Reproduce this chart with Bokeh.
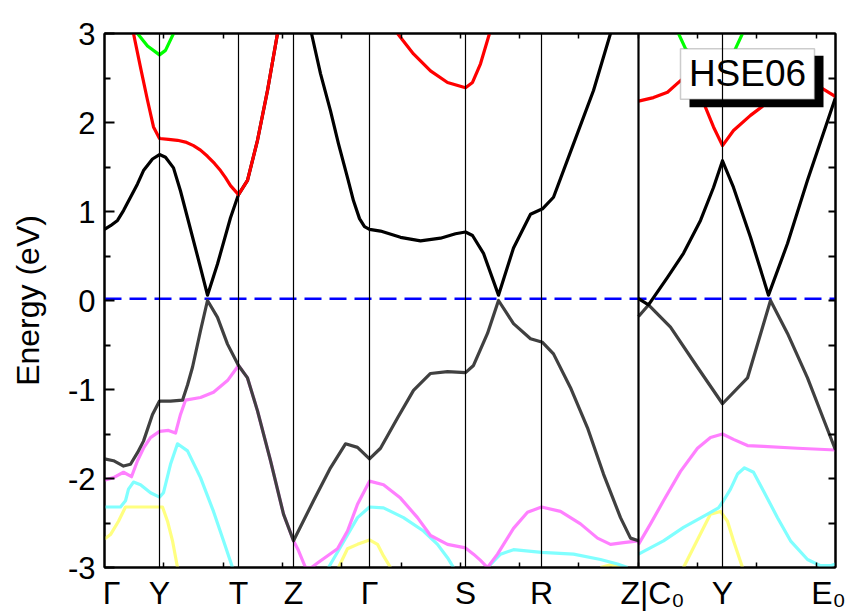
from bokeh.plotting import figure
from bokeh.models import Span, Label, BoxAnnotation, LinearAxis, FixedTicker, Range1d
from bokeh.embed import file_html
from bokeh.resources import INLINE
import numpy as np

nan = float("nan")

# high-symmetry points (k-path positions) and their labels
kpos = [0.0, 0.55, 1.34, 1.89, 2.65, 3.61, 4.37, 5.34, 6.18, 7.31]
klabels = ["Γ", "Y", "T", "Z", "Γ", "S", "R", "Z|C₀", "Y", "E₀"]
energy_ticks = [-3, -2, -1, 0, 1, 2, 3]
fermi_level = 0.02

# conduction band 1 (black)
cb1_k = [0, .06, .13, .19, .26, .33, .39, .48, .55, .61, .69, .76, .83, .96, 1.03, 1.13, 1.26, 1.34,
         1.43, 1.53, 1.63, 1.73, nan,
         2.07, 2.16, 2.26, 2.34, 2.43, 2.49, 2.55, 2.60, 2.65, 2.76, 2.96, 3.16, 3.36, 3.51, 3.61, 3.68,
         3.79, 3.94, 4.09, 4.26, 4.38, 4.49, 4.69, 4.89, 5.06, nan,
         5.34, 5.44, 5.63, 5.79, 5.96, 6.09, 6.18, 6.29, 6.46, 6.64, 6.83, 7.03, 7.31]
cb1_e = [0.80, 0.84, 0.90, 1.01, 1.16, 1.31, 1.46, 1.59, 1.64, 1.61, 1.49, 1.23, 0.93, 0.37, 0.06, 0.41,
         0.93, 1.19, 1.35, 1.80, 2.36, 3.0, nan,
         3.0, 2.55, 2.13, 1.76, 1.38, 1.12, 0.92, 0.83, 0.80, 0.78, 0.71, 0.67, 0.70, 0.75, 0.77, 0.73,
         0.53, 0.06, 0.59, 0.97, 1.03, 1.16, 1.76, 2.36, 3.0, nan,
         0.02, -0.05, 0.26, 0.53, 0.90, 1.27, 1.57, 1.27, 0.71, 0.06, 0.64, 1.35, 2.28]

# conduction band 2 (red)
cb2_k = [.29, .36, .43, .49, .55, .64, .73, .81, .89, .96, 1.03, 1.10, 1.16, 1.21, 1.26, 1.30, 1.34,
         1.43, 1.53, 1.63, 1.73, nan,
         2.93, 3.09, 3.26, 3.43, 3.61, 3.68, 3.76, 3.85, nan,
         5.34, 5.49, 5.63, 5.76, 5.86, 6.01, 6.09, 6.18, 6.29, 6.46, 6.59, 6.81, 7.01, 7.18, 7.31]
cb2_e = [3.0, 2.62, 2.25, 1.95, 1.82, 1.81, 1.80, 1.78, 1.74, 1.69, 1.62, 1.54, 1.46, 1.38, 1.29, 1.24,
         1.19, 1.35, 1.80, 2.36, 3.0, nan,
         3.0, 2.77, 2.58, 2.45, 2.39, 2.45, 2.66, 3.0, nan,
         2.24, 2.28, 2.34, 2.47, 2.56, 2.17, 1.95, 1.74, 1.91, 2.08, 2.19, 2.33, 2.42, 2.38, 2.29]

# conduction band 3 (green)
cb3_k = [.33, .43, .55, .61, .69, nan, 5.74, 5.81, 5.91, 6.06, 6.18, 6.24, 6.31, 6.38]
cb3_e = [3.0, 2.86, 2.76, 2.81, 3.0, nan, 3.0, 2.83, 2.70, 2.62, 2.60, 2.66, 2.83, 3.0]

# valence band 1 (dark grey)
vb1_k = [0, .09, .19, .26, .33, .39, .48, .55, .66, .78, .83, .88, .96, 1.03, 1.13, 1.23, 1.34, 1.43,
         1.53, 1.66, 1.79, 1.89, 2.09, 2.26, 2.41, 2.53, 2.65, 2.76, 2.93, 3.09, 3.26, 3.43, 3.61, 3.69,
         3.83, 3.94, 4.09, 4.26, 4.38, 4.49, 4.66, 4.83, 4.99, 5.16, 5.26, 5.34, nan,
         5.34, 5.44, 5.66, 5.93, 6.18, 6.43, 6.66, 6.83, 7.03, 7.31]
vb1_e = [-1.78, -1.80, -1.86, -1.84, -1.71, -1.58, -1.28, -1.13, -1.13, -1.12, -0.95, -0.75, -0.34, 0.0,
         -0.19, -0.49, -0.73, -0.87, -1.24, -1.80, -2.40, -2.70, -2.25, -1.88, -1.61, -1.65, -1.78, -1.66,
         -1.32, -1.01, -0.82, -0.80, -0.81, -0.73, -0.37, 0.0, -0.26, -0.43, -0.47, -0.60, -0.98, -1.43,
         -1.95, -2.44, -2.67, -2.70, nan,
         -0.18, -0.05, -0.30, -0.75, -1.16, -0.87, 0.0, -0.37, -0.87, -1.68]

# valence band 2 (magenta)
vb2_k = [0, .09, .19, .27, .33, .39, .46, .55, .64, .71, .76, .81, .96, 1.09, 1.23, 1.34, 1.43, 1.53,
         1.66, 1.79, 1.89, 1.94, 2.01, 2.07, 2.13, 2.33, 2.43, 2.53, 2.65, 2.79, 2.96, 3.13, 3.26, 3.43,
         3.61, 3.69, 3.76, 3.83, 3.93, 4.09, 4.23, 4.37, 4.56, 4.76, 4.93, 5.06, 5.19, 5.34, nan,
         5.34, 5.46, 5.59, 5.76, 5.93, 6.06, 6.18, 6.29, 6.43, 6.59, 6.93, 7.31]
vb2_e = [-2.02, -1.99, -1.93, -1.98, -1.80, -1.66, -1.54, -1.47, -1.46, -1.49, -1.28, -1.12, -1.09, -1.03,
         -0.90, -0.73, -0.87, -1.24, -1.80, -2.40, -2.70, -2.81, -3.0, -3.0, -2.95, -2.79, -2.59, -2.29,
         -2.03, -2.07, -2.22, -2.44, -2.64, -2.74, -2.78, -2.85, -2.92, -3.0, -2.85, -2.56, -2.38, -2.32,
         -2.37, -2.51, -2.67, -2.74, -2.72, -2.70, nan,
         -2.74, -2.51, -2.25, -1.92, -1.66, -1.54, -1.50, -1.56, -1.63, -1.64, -1.66, -1.68]

# valence band 3 (cyan)
vb3_k = [0, .16, .21, .24, .29, .36, .46, .55, .59, .66, .73, .83, .96, 1.09, 1.19, 1.28, nan,
         2.24, 2.36, 2.53, 2.65, 2.79, 2.99, 3.19, 3.33, 3.43, 3.49, nan,
         3.83, 3.96, 4.09, 4.37, 4.69, 4.96, 5.13, 5.23, nan,
         5.34, 5.59, 5.79, 6.03, 6.14, 6.19, 6.26, 6.33, 6.40, 6.49, 6.59, 6.73, 6.86, 7.03, 7.16, 7.26, 7.31]
vb3_e = [-2.32, -2.32, -2.25, -2.12, -2.04, -2.07, -2.16, -2.21, -2.16, -1.84, -1.61, -1.69, -1.99, -2.37,
         -2.70, -3.0, nan,
         -3.0, -2.77, -2.44, -2.32, -2.33, -2.44, -2.59, -2.74, -2.89, -3.0, nan,
         -3.0, -2.85, -2.80, -2.83, -2.85, -2.91, -2.96, -3.0, nan,
         -2.85, -2.70, -2.55, -2.40, -2.33, -2.25, -2.12, -1.95, -1.88, -1.93, -2.14, -2.44, -2.70, -2.91,
         -2.98, -2.98, -2.96]

# valence band 4 (yellow)
vb4_k = [0, .06, .14, .21, .58, .63, .68, .73, nan, 2.34, 2.43, 2.53, 2.65, 2.73, 2.79, 2.86, nan,
         4.96, 5.06, 5.18, nan, 5.79, 5.96, 6.06, 6.16, 6.23, 6.29, 6.38]
vb4_e = [-2.68, -2.63, -2.48, -2.32, -2.32, -2.48, -2.70, -3.0, nan, -3.0, -2.79, -2.74, -2.69, -2.74,
         -2.87, -3.0, nan, -3.0, -2.97, -3.0, nan, -3.0, -2.62, -2.40, -2.37, -2.48, -2.70, -3.0]

bands = [
    (vb4_k, vb4_e, "#FFFF80"),
    (vb3_k, vb3_e, "#80FFFF"),
    (vb2_k, vb2_e, "#FF80FF"),
    (vb1_k, vb1_e, "#404040"),
    (cb1_k, cb1_e, "#000000"),
    (cb2_k, cb2_e, "#FF0000"),
    (cb3_k, cb3_e, "#00FF00"),
]

FONT = "Liberation Sans"

p = figure(width=852, height=614, output_backend="svg", toolbar_location=None,
           x_range=Range1d(kpos[0], kpos[-1]), y_range=Range1d(-3, 3),
           min_border_left=104, min_border_right=17, min_border_top=33, min_border_bottom=47)
p.background_fill_color = "white"
p.border_fill_color = "white"
p.outline_line_color = "black"
p.outline_line_width = 2
p.xgrid.visible = False
p.ygrid.visible = False

# small k ticks along top and bottom (no labels: minor ticks only)
k_minor = [float(v) for v in np.arange(0.593, kpos[-1], 0.593)]
e_minor = [float(v) for v in np.arange(-2.5, 3.0, 0.5)]

ya = p.yaxis[0]
ya.ticker = FixedTicker(ticks=energy_ticks, minor_ticks=[-2.5, -1.5, -0.5, 0.5, 1.5, 2.5])
ya.major_label_overrides = {t: str(t) for t in energy_ticks}
ya.axis_line_width = 2
ya.major_tick_line_width = 2
ya.minor_tick_line_width = 2
ya.major_tick_in = 10
ya.major_tick_out = 0
ya.minor_tick_in = 6
ya.minor_tick_out = 0
ya.major_label_text_font = FONT
ya.major_label_text_font_size = "31px"
ya.major_label_text_color = "black"
ya.major_label_standoff = 9
ya.axis_label = "Energy (eV)"
ya.axis_label_text_font = FONT
ya.axis_label_text_font_size = "32px"
ya.axis_label_text_font_style = "normal"
ya.axis_label_text_color = "black"
ya.axis_label_standoff = 19

# bottom axis: k-point labels as major ticks (no tick marks), small minor ticks
label_shift = {0: 0.07, 7: 0.14, 9: -0.07}
label_pos = [kk + label_shift.get(i, 0.0) for i, kk in enumerate(kpos)]
xa = p.xaxis[0]
xa.ticker = FixedTicker(ticks=label_pos, minor_ticks=k_minor)
xa.major_label_overrides = {pos: lab for pos, lab in zip(label_pos, klabels)}
xa.axis_line_width = 2
xa.major_tick_in = 0
xa.major_tick_out = 0
xa.major_tick_line_color = None
xa.minor_tick_line_width = 1.5
xa.minor_tick_in = 5
xa.minor_tick_out = 0
xa.major_label_text_font = FONT
xa.major_label_text_font_size = "32px"
xa.major_label_text_color = "black"
xa.major_label_standoff = 7

top = LinearAxis(ticker=FixedTicker(ticks=[], minor_ticks=k_minor), axis_line_width=2,
                 minor_tick_line_width=1.5, minor_tick_in=5, minor_tick_out=0,
                 major_tick_line_color=None)
p.add_layout(top, "above")
right = LinearAxis(ticker=FixedTicker(ticks=[], minor_ticks=e_minor), axis_line_width=2,
                   minor_tick_line_width=2, minor_tick_in=7, minor_tick_out=0,
                   major_tick_line_color=None)
p.add_layout(right, "right")

# Fermi level
p.add_layout(Span(location=fermi_level, dimension="width", line_color="#0000FF", line_width=2.5,
                  line_dash="17 8", level="underlay"))

for k, e, c in bands:
    p.line(k, e, line_color=c, line_width=3.2, line_join="round")

# HSE06 box with shadow
p.add_layout(BoxAnnotation(left=5.85, right=7.19, bottom=2.17, top=2.75, fill_color="black",
                           fill_alpha=1.0, line_alpha=0))
p.add_layout(BoxAnnotation(left=5.76, right=7.10, bottom=2.26, top=2.83, fill_color="white",
                           fill_alpha=1.0, line_color="#555555", line_width=1.5))

# vertical high-symmetry lines
for i, kk in enumerate(kpos[1:-1], start=1):
    p.add_layout(Span(location=kk, dimension="height", line_color="black",
                      line_width=2.2 if i == 7 else 1.2))

p.add_layout(Label(x=6.43, y=2.545, text="HSE06", text_align="center", text_baseline="middle",
                   text_font=FONT, text_font_size="37px", text_color="black"))

open("out.html", "w").write(file_html(p, INLINE))
